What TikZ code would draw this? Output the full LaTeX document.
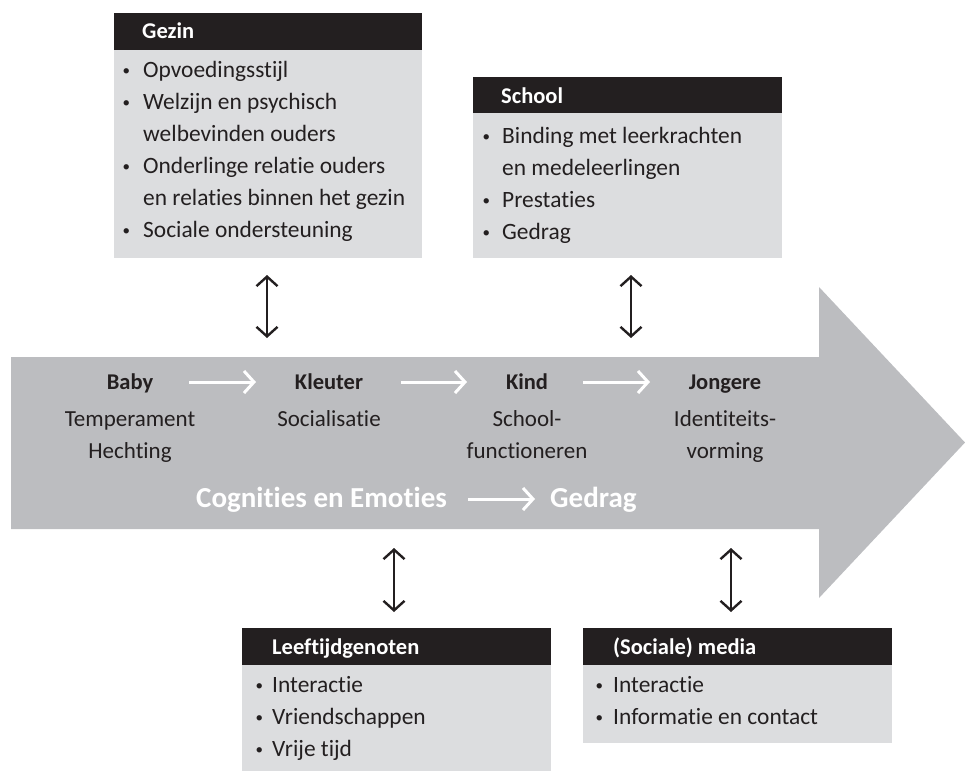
\documentclass[tikz,border=0pt]{standalone}
\usepackage{fontspec}
\setmainfont{Carlito}[Ligatures={NoCommon}]
\usetikzlibrary{arrows.meta}
\definecolor{hdrc}{HTML}{231F20}
\definecolor{boxc}{HTML}{DCDDDF}
\definecolor{arrc}{HTML}{BCBDC0}
\definecolor{txtc}{HTML}{231F20}
\tikzset{
  hdr/.style={fill=hdrc, draw=none, inner sep=0pt, anchor=north west},
  bodyb/.style={fill=boxc, draw=none, inner sep=0pt, anchor=north west},
  ttl/.style={text=white, font=\bfseries\fontsize{22.5}{27}\selectfont, anchor=base west, inner sep=0pt},
  itm/.style={text=txtc, font=\fontsize{23.4}{28}\selectfont, anchor=base west, inner sep=0pt},
  stage/.style={text=txtc, font=\bfseries\fontsize{22.5}{27}\selectfont, anchor=base, inner sep=0pt},
  desc/.style={text=txtc, font=\fontsize{23}{28}\selectfont, anchor=base, inner sep=0pt},
  flow/.style={text=white, font=\bfseries\fontsize{29}{34}\selectfont, anchor=base west, inner sep=0pt},
  barrow/.style={draw=txtc, line width=2.4pt, {Straight Barb[length=9.5pt,width=21pt,line width=2.4pt]}-{Straight Barb[length=9.5pt,width=21pt,line width=2.4pt]}},
  warrow/.style={draw=white, line width=3pt, -{Straight Barb[length=10pt,width=22pt,line width=3pt]}},
}
\newcommand{\bulA}[1]{\makebox[#1][l]{\hspace{1.5pt}\raisebox{1.2pt}{\fontsize{15}{15}\selectfont\textbullet}}}
\begin{document}
\begin{tikzpicture}[x=1pt,y=-1pt]
\useasboundingbox (0,0) rectangle (965,771);
% big arrow
\fill[arrc] (11,357) -- (819,357) -- (819,287) -- (965,442.5) -- (819,598) -- (819,529) -- (11,529) -- cycle;

% ---- Gezin
\node[bodyb, minimum width=308pt, minimum height=208pt] (gezinB) at (114,50) {};
\node[hdr, minimum width=308pt, minimum height=37pt] (gezinH) at (114,13) {};
\node[ttl] (gezinT) at (142,38.5) {Gezin};
\node[itm] (g1) at (121,77) {\bulA{22pt}Opvoedingsstijl};
\node[itm] (g2) at (121,109) {\bulA{22pt}Welzijn en psychisch};
\node[itm] (g3) at (143,141) {welbevinden ouders};
\node[itm] (g4) at (121,173) {\bulA{22pt}Onderlinge relatie ouders};
\node[itm] (g5) at (143,205) {en relaties binnen het gezin};
\node[itm] (g6) at (121,237) {\bulA{22pt}Sociale ondersteuning};

% ---- School
\node[bodyb, minimum width=309pt, minimum height=145pt] (schoolB) at (473,113) {};
\node[hdr, minimum width=309pt, minimum height=36pt] (schoolH) at (473,77) {};
\node[ttl] (schoolT) at (501,103) {School};
\node[itm] (s1) at (481,143) {\bulA{21pt}Binding met leerkrachten};
\node[itm] (s2) at (502,175) {en medeleerlingen};
\node[itm] (s3) at (481,207) {\bulA{21pt}Prestaties};
\node[itm] (s4) at (481,239) {\bulA{21pt}Gedrag};

% ---- Leeftijdgenoten
\node[bodyb, minimum width=309pt, minimum height=106pt] (leefB) at (242,665) {};
\node[hdr, minimum width=309pt, minimum height=37pt] (leefH) at (242,628) {};
\node[ttl] (leefT) at (272,654) {Leeftijdgenoten};
\node[itm] (l1) at (254,692) {\bulA{18pt}Interactie};
\node[itm] (l2) at (254,724) {\bulA{18pt}Vriendschappen};
\node[itm] (l3) at (254,756) {\bulA{18pt}Vrije tijd};

% ---- (Sociale) media
\node[bodyb, minimum width=309pt, minimum height=78pt] (mediaB) at (583,665) {};
\node[hdr, minimum width=309pt, minimum height=37pt] (mediaH) at (583,628) {};
\node[ttl] (mediaT) at (613,654) {(Sociale) media};
\node[itm] (m1) at (594,692) {\bulA{19pt}Interactie};
\node[itm] (m2) at (594,724) {\bulA{19pt}Informatie en contact};

% ---- stages inside the arrow
\node[stage] (baby) at (130,389) {Baby};
\node[stage] (kleuter) at (329,389) {Kleuter};
\node[stage] (kind) at (527,389) {Kind};
\node[stage] (jong) at (725,389) {Jongere};
\node[desc] (babyA) at (130,426) {Temperament};
\node[desc] (babyB) at (130,458) {Hechting};
\node[desc] (kleuterA) at (329,426) {Socialisatie};
\node[desc] (kindA) at (527,426) {School-};
\node[desc] (kindB) at (527,458) {functioneren};
\node[desc] (jongA) at (725,426) {Identiteits-};
\node[desc] (jongB) at (725,458) {vorming};
\node[flow] (cogn) at (196,507) {Cognities en Emoties};
\node[flow] (gedrag) at (550,507) {Gedrag};

% white arrows
\coordinate (w1a) at (189,382); \coordinate (w1b) at (256,382);
\coordinate (w2a) at (401,382); \coordinate (w2b) at (467,382);
\coordinate (w3a) at (583,382); \coordinate (w3b) at (650,382);
\coordinate (w4a) at (468,499); \coordinate (w4b) at (535,499);
\draw[warrow] (w1a) -- (w1b);
\draw[warrow] (w2a) -- (w2b);
\draw[warrow] (w3a) -- (w3b);
\draw[warrow] (w4a) -- (w4b);

% black double arrows
\coordinate (ga) at (267,275); \coordinate (gb) at (267,338);
\coordinate (sa) at (631,275); \coordinate (sb) at (631,338);
\coordinate (la) at (394,548); \coordinate (lb) at (394,612);
\coordinate (ma) at (731,548); \coordinate (mb) at (731,612);
\draw[barrow] (ga) -- (gb);
\draw[barrow] (sa) -- (sb);
\draw[barrow] (la) -- (lb);
\draw[barrow] (ma) -- (mb);
\end{tikzpicture}
\end{document}
